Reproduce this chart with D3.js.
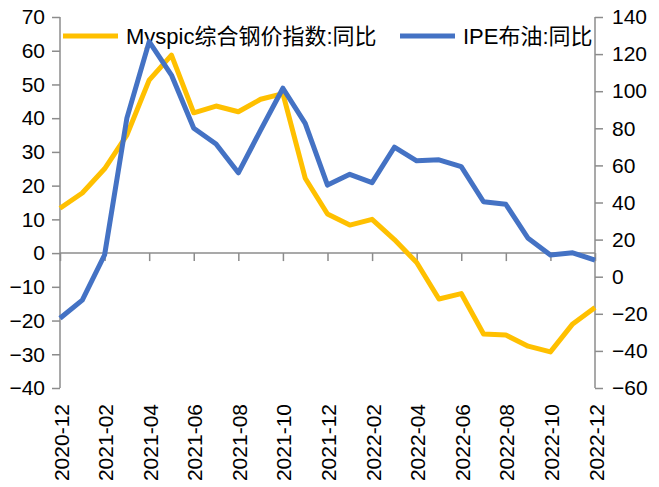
<!DOCTYPE html>
<html>
 <head>
  <meta charset="utf-8">
  <script src="https://cdnjs.cloudflare.com/ajax/libs/d3/7.8.3/d3.min.js"></script>
  <style>
   body { margin: 0; background: #fff; }
   text { font-family: "Liberation Sans", "Noto Sans CJK SC", sans-serif; fill: #000; }
  </style>
 </head>
 <body>
  <script>
   const months = ["2020-12", "2021-01", "2021-02", "2021-03", "2021-04", "2021-05", "2021-06",
                   "2021-07", "2021-08", "2021-09", "2021-10", "2021-11", "2021-12", "2022-01",
                   "2022-02", "2022-03", "2022-04", "2022-05", "2022-06", "2022-07", "2022-08",
                   "2022-09", "2022-10", "2022-11", "2022-12"];
   const steel = [13.3, 17.8, 25, 35, 51.3, 58.7, 41.6, 43.6, 41.9, 45.6, 47.3, 22.2, 11.6,
                  8.3, 10, 4, -2.8, -13.6, -12, -24, -24.3, -27.6, -29.3, -21, -16.1];
   const oil = [-22.4, -12.6, 11.7, 85.5, 126.7, 108.7, 80, 71.5, 56, 79, 101.6, 82.7, 49.4,
                55.2, 50.7, 69.8, 62.5, 63, 59.3, 40.4, 39, 20.7, 11.7, 12.9, 9];
   const leftTicks = [70, 60, 50, 40, 30, 20, 10, 0, -10, -20, -30, -40];
   const rightTicks = [140, 120, 100, 80, 60, 40, 20, 0, -20, -40, -60];
   const names = ["Myspic综合钢价指数:同比", "IPE布油:同比"];

   const w = 659;
   const h = 487;
   const padL = 60;
   const padR = 595;
   const padT = 17;
   const padB = 388;
   const axisColor = "#8c8c8c";
   const colors = ["#FFC000", "#4472C4"];

   const svg = d3.select("body")
                 .append("svg")
                 .attr("width", w)
                 .attr("height", h);

   const xScale = d3.scalePoint()
                    .domain(months)
                    .range([padL, padR]);
   const yLeft = d3.scaleLinear()
                   .domain([-40, 70])
                   .range([padB, padT]);
   const yRight = d3.scaleLinear()
                    .domain([-60, 140])
                    .range([padB, padT]);

   // left axis
   const yAxisL = d3.axisLeft(yLeft)
                    .tickValues(leftTicks)
                    .tickSize(8)
                    .tickPadding(7);
   const gl = svg.append("g")
                 .attr("transform", "translate(" + padL + ",0)")
                 .call(yAxisL);
   // right axis
   const yAxisR = d3.axisRight(yRight)
                    .tickValues(rightTicks)
                    .tickSize(8)
                    .tickPadding(9);
   const gr = svg.append("g")
                 .attr("transform", "translate(" + padR + ",0)")
                 .call(yAxisR);
   // x axis on zero line
   const xAxis = d3.axisBottom(xScale)
                   .tickValues(months.filter((d, i) => i % 2 == 0))
                   .tickSize(8)
                   .tickFormat("");
   const gx = svg.append("g")
                 .attr("transform", "translate(0," + yLeft(0) + ")")
                 .call(xAxis);

   [gl, gr, gx].forEach(g => {
     g.select(".domain").attr("stroke", axisColor).attr("stroke-width", 1.5);
     g.selectAll(".tick line").attr("stroke", axisColor).attr("stroke-width", 1.5);
     g.selectAll("text").style("font-size", "21px").attr("fill", "#000");
   });
   gl.select(".domain").attr("d", "M0," + padT + "V" + padB);
   gr.select(".domain").attr("d", "M0," + padT + "V" + padB);
   gx.select(".domain").attr("d", "M" + padL + ",0H" + padR);

   // rotated month labels
   svg.append("g")
      .selectAll("text")
      .data(months.filter((d, i) => i % 2 == 0))
      .enter()
      .append("text")
      .attr("transform", d => "translate(" + (xScale(d) + 1) + ",404) rotate(-90)")
      .attr("text-anchor", "end")
      .attr("dy", "0.36em")
      .style("font-size", "21px")
      .text(d => d);

   // legend
   const legX = [63, 400];
   const legend = svg.append("g");
   names.forEach((n, i) => {
     legend.append("line")
           .attr("x1", legX[i])
           .attr("x2", legX[i] + 55)
           .attr("y1", 36)
           .attr("y2", 36)
           .attr("stroke", colors[i])
           .attr("stroke-width", 5);
     legend.append("text")
           .attr("x", legX[i] + 63)
           .attr("y", 44)
           .style("font-size", "22px")
           .text(n);
   });

   // lines
   const lineL = d3.line()
                   .x((d, i) => xScale(months[i]))
                   .y(d => yLeft(d));
   const lineR = d3.line()
                   .x((d, i) => xScale(months[i]))
                   .y(d => yRight(d));
   svg.append("path")
      .attr("d", lineL(steel))
      .attr("fill", "none")
      .attr("stroke", colors[0])
      .attr("stroke-width", 5)
      .attr("stroke-linejoin", "round");
   svg.append("path")
      .attr("d", lineR(oil))
      .attr("fill", "none")
      .attr("stroke", colors[1])
      .attr("stroke-width", 5)
      .attr("stroke-linejoin", "round");
  </script>
 </body>
</html>
